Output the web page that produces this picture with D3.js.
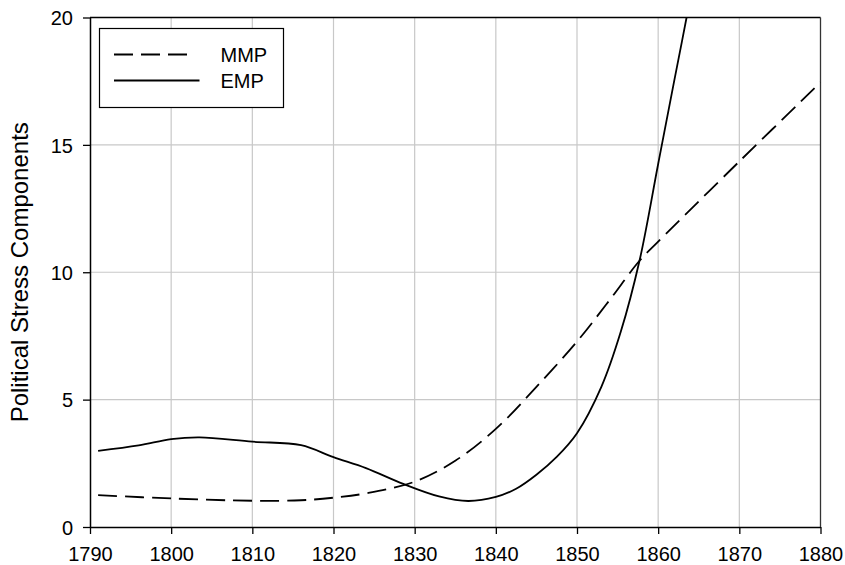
<!DOCTYPE html>
<html>
<head>
<meta charset="utf-8">
<script src="https://cdn.jsdelivr.net/npm/d3@7"></script>
<style>
    body { margin: 0; background: #fff; }
    svg text { font-family: "Liberation Sans", Arial, sans-serif; fill: #000; }
</style>
</head>
<body>
<div id="plot1"></div>
<script>
'use strict';

// values
const xTicks = [1790, 1800, 1810, 1820, 1830, 1840, 1850, 1860, 1870, 1880];
const yTicks = [0, 5, 10, 15, 20];

const mmpYears = [1791, 1800, 1810, 1816, 1820, 1824, 1830, 1835, 1840, 1845, 1850, 1854, 1857.7, 1860, 1870, 1880];
const mmpValues = [1.25, 1.12, 1.03, 1.05, 1.15, 1.32, 1.78, 2.6, 3.85, 5.5, 7.28, 8.9, 10.45, 11.2, 14.35, 17.45];

const empYears = [1791, 1796, 1800, 1803.5, 1810, 1816, 1820, 1824, 1828.6, 1833, 1836.6, 1840, 1842.5, 1845, 1847.5, 1850, 1853, 1855.4, 1857.7, 1860, 1862, 1863.5, 1865];
const empValues = [2.99, 3.2, 3.45, 3.52, 3.35, 3.21, 2.74, 2.31, 1.69, 1.2, 1.02, 1.18, 1.5, 2.05, 2.75, 3.68, 5.5, 7.67, 10.45, 14.25, 17.55, 20, 22.6];

const seriesNames = ['MMP', 'EMP'];

const margin = {top: 17.5, right: 24.5, bottom: 38, left: 90},
    width = 845 - margin.left - margin.right,
    height = 565 - margin.top - margin.bottom;

const svg = d3.select('#plot1')
    .append('svg')
        .attr('width', 845)
        .attr('height', 565)
    .append('g')
        .attr('transform', `translate(${margin.left}, ${margin.top})`);

const x = d3.scaleLinear()
    .domain([1790, 1880])
    .range([0, width]);
const y = d3.scaleLinear()
    .domain([0, 20])
    .range([height, 0]);

// grid
svg.append('g')
    .selectAll('line')
    .data(xTicks.slice(1, -1))
    .join('line')
        .attr('x1', d => x(d)).attr('x2', d => x(d))
        .attr('y1', 0).attr('y2', height)
        .style('stroke', '#c8c8c8').style('stroke-width', 1.2);
svg.append('g')
    .selectAll('line')
    .data(yTicks.slice(1, -1))
    .join('line')
        .attr('x1', 0).attr('x2', width)
        .attr('y1', d => y(d)).attr('y2', d => y(d))
        .style('stroke', '#c8c8c8').style('stroke-width', 1.2);

// axes
const xAxis = svg.append('g')
    .attr('transform', `translate(0, ${height})`)
    .call(d3.axisBottom(x).tickValues(xTicks).tickFormat(d3.format('d')).tickSizeOuter(0).tickSizeInner(7).tickPadding(13));
const yAxis = svg.append('g')
    .call(d3.axisLeft(y).tickValues(yTicks).tickSizeOuter(0).tickSizeInner(7).tickPadding(10));
[xAxis, yAxis].forEach(a => {
    a.select('.domain').style('stroke', '#000').style('stroke-width', 1.5);
    a.selectAll('.tick line').style('stroke', '#000').style('stroke-width', 1.3);
    a.selectAll('.tick text').style('font-size', '20px');
});
yAxis.selectAll('.tick text').attr('dy', '0.36em');

// frame top / right
svg.append('line').attr('x1', 0).attr('x2', width).attr('y1', 0).attr('y2', 0)
    .style('stroke', '#000').style('stroke-width', 1.3);
svg.append('line').attr('x1', width).attr('x2', width).attr('y1', 0).attr('y2', height)
    .style('stroke', '#333').style('stroke-width', 1.3);

svg.append('text')
    .attr('transform', `translate(${28 - margin.left}, ${height / 2}) rotate(-90)`)
    .attr('text-anchor', 'middle')
    .style('font-size', '24px')
    .text('Political Stress Components');

svg.append('clipPath').attr('id', 'clip')
    .append('rect').attr('width', width).attr('height', height);

const line = d3.line()
    .x(d => x(d[0]))
    .y(d => y(d[1]))
    .curve(d3.curveCatmullRom.alpha(0.5));

const mmp = d3.zip(mmpYears, mmpValues);
const emp = d3.zip(empYears, empValues);

svg.append('path')
    .datum(mmp)
    .attr('clip-path', 'url(#clip)')
    .attr('d', line)
    .style('fill', 'none').style('stroke', '#000').style('stroke-width', 1.8)
    .style('stroke-dasharray', '19,8');
svg.append('path')
    .datum(emp)
    .attr('clip-path', 'url(#clip)')
    .attr('d', line)
    .style('fill', 'none').style('stroke', '#000').style('stroke-width', 1.8);

// legend
const legend = svg.append('g').attr('transform', `translate(${99.5 - margin.left}, ${28.5 - margin.top})`);
legend.append('rect')
    .attr('width', 184).attr('height', 79)
    .style('fill', '#fff').style('stroke', '#000').style('stroke-width', 1.2);
const items = legend.selectAll('g.item')
    .data(seriesNames)
    .join('g')
        .attr('transform', (d, i) => `translate(0, ${26 + i * 26})`);
items.append('line')
    .attr('x1', 14.5)
    .attr('x2', (d, i) => i === 0 ? 93 : 100)
    .style('stroke', '#000').style('stroke-width', 1.8)
    .style('stroke-dasharray', (d, i) => i === 0 ? '19,8' : null);
items.append('text')
    .attr('x', 121)
    .attr('dy', '0.36em')
    .style('font-size', '20px')
    .text(d => d);
</script>
</body>
</html>
